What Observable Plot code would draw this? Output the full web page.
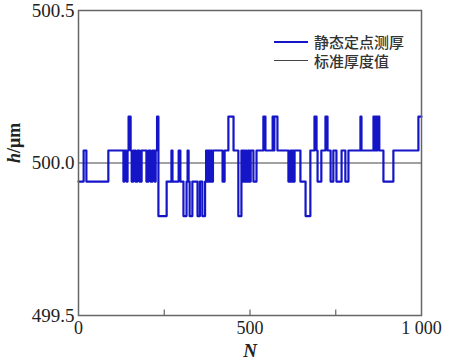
<!DOCTYPE html>
<html>
<head>
<meta charset="utf-8">
<script src="https://cdn.jsdelivr.net/npm/d3@7"></script>
<script src="https://cdn.jsdelivr.net/npm/@observablehq/plot@0.6"></script>
<style>
  body { margin: 0; background: #fff; }
  #wrap { position: relative; width: 449px; height: 363px; }
  .leg { position: absolute; display: flex; align-items: center; font-family: "Noto Sans CJK SC", sans-serif; font-size: 15px; color: #333; font-weight: 500; }
  .leg span.sw { display: inline-block; width: 34px; margin-right: 6px; }
</style>
</head>
<body>
<div id="wrap">
  <div class="leg" style="left:274px; top:31px;"><span class="sw" style="border-top:2.5px solid #1515c8;"></span>静态定点测厚</div>
  <div class="leg" style="left:274px; top:50px;"><span class="sw" style="border-top:1.2px solid #444;"></span>标准厚度值</div>
</div>
<script>
// Step change points of the measured thickness (N where the level changes, and the new level in μm)
const stepN = [0,15,23,87,131,134,140,143,146,152,155,160,166,172,178,184,198,204,210,216,222,225,229,233,257,271,274,292,297,306,315,318,321,324,332,347,354,361,369,372,376,379,383,386,389,392,420,426,437,452,466,475,478,481,484,488,490,495,499,502,510,519,539,545,566,569,571,580,612,618,621,624,627,630,647,662,676,688,694,697,708,720,726,735,743,752,767,778,787,822,825,860,863,866,869,872,877,889,918,991,1000];
const stepLevel = ["L","U","L","U","L","U","L","U","H","U","L","U","L","U","L","U","L","U","L","U","L","U","H","B","L","U","L","U","L","B","L","U","L","B","L","B","L","B","L","U","L","U","L","U","L","U","L","U","H","U","B","U","L","U","L","U","L","U","L","U","L","U","H","U","H","U","H","U","L","U","L","U","L","U","L","B","U","H","U","L","U","H","U","L","U","L","U","L","U","H","U","H","U","H","U","H","U","L","U","H","H"];
const levelNames = ["H","U","L","B"];
const levelValues = [500.152, 500.041, 499.939, 499.826];
const standardValue = [500.0];
const xTicks = [0, 500, 1000];
const xTickLabels = ["0", "500", "1 000"];
const xMinorTicks = [250, 500, 750];
const yTicks = [499.5, 500.0, 500.5];

const data = stepN.map((n, i) => ({N: n, h: levelValues[levelNames.indexOf(stepLevel[i])]}));

const serif = "'Liberation Serif', 'DejaVu Serif', serif";
const chart = Plot.plot({
  width: 449, height: 363,
  marginLeft: 78, marginRight: 28, marginTop: 10, marginBottom: 48,
  style: {fontFamily: serif, color: "#222", background: "transparent"},
  x: {domain: [0, 1000]},
  y: {domain: [499.5, 500.5]},
  marks: [
    Plot.ruleY(standardValue, {stroke: "#444", strokeWidth: 1.2}),
    Plot.line(data, {x: "N", y: "h", curve: "step-after", stroke: "#1515c8", strokeWidth: 2.2}),
    Plot.ruleX(xMinorTicks, {y1: 499.5, y2: 499.518, stroke: "#666", strokeWidth: 1.2}),
    Plot.frame({stroke: "#666", strokeWidth: 1.5}),
    Plot.axisX({ticks: xTicks, tickFormat: (d) => xTickLabels[xTicks.indexOf(d)], tickSize: 0, tickPadding: 6, fontSize: 18, label: null}),
    Plot.axisY({ticks: yTicks, tickFormat: d => d.toFixed(1), tickSize: 0, tickPadding: 4, fontSize: 19, label: null}),
    Plot.text(["N"], {frameAnchor: "bottom", dy: 41, fontSize: 19, fontStyle: "italic", fontWeight: "bold", fill: "#222"}),
    Plot.text(["h/μm"], {frameAnchor: "left", dx: -64, rotate: -90, fontSize: 18, fontWeight: "bold", fill: "#222"})
  ]
});
document.getElementById("wrap").prepend(chart);
chart.style.position = "absolute"; chart.style.left = "0"; chart.style.top = "0";
// italic h in the y label
d3.select(chart).selectAll("text").filter(function() { return this.textContent === "h/μm"; })
  .each(function() {
    const t = d3.select(this);
    t.text(null);
    t.append("tspan").attr("font-style", "italic").text("h");
    t.append("tspan").text("/μm");
  });
document.querySelectorAll(".leg").forEach(e => e.style.zIndex = 2);
</script>
</body>
</html>
